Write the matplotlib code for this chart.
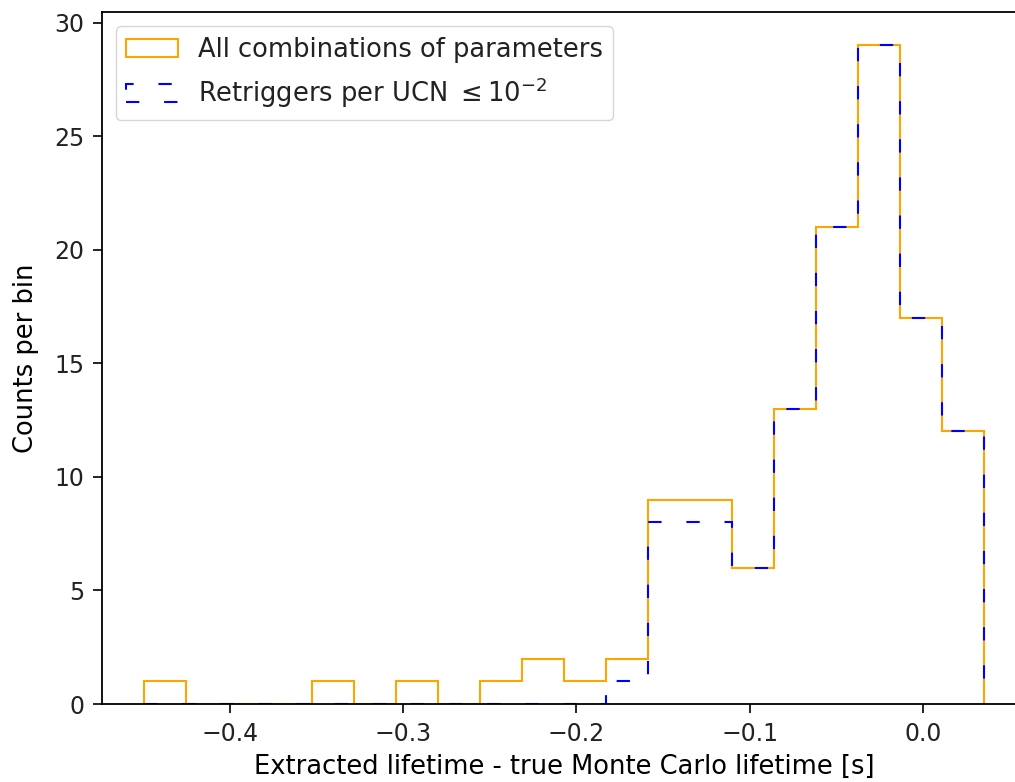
import numpy as np
import matplotlib
matplotlib.use("Agg")
import matplotlib.pyplot as plt

# 20 equal bins of (extracted - true) lifetime
bin_lo, bin_hi, n_bins = -0.450, 0.0356, 20
edges = np.linspace(bin_lo, bin_hi, n_bins + 1)
centers = 0.5 * (edges[:-1] + edges[1:])

counts_all = [1, 0, 0, 0, 1, 0, 1, 0, 1, 2, 1, 2, 9, 9, 6, 13, 21, 29, 17, 12]
counts_cut = [0, 0, 0, 0, 0, 0, 0, 0, 0, 0, 0, 1, 8, 8, 6, 13, 21, 29, 17, 12]

plt.rcParams['font.size'] = 18.5
plt.rcParams['xtick.labelsize'] = 17
plt.rcParams['ytick.labelsize'] = 17
plt.rcParams['axes.linewidth'] = 1.3
plt.rcParams['xtick.major.size'] = 6.5
plt.rcParams['ytick.major.size'] = 6.5
plt.rcParams['xtick.major.width'] = 1.2
plt.rcParams['ytick.major.width'] = 1.2
plt.rcParams['xtick.major.pad'] = 6.5
plt.rcParams['ytick.major.pad'] = 6
plt.rcParams['text.color'] = '#222222'
plt.rcParams['xtick.labelcolor'] = '#222222'
plt.rcParams['ytick.labelcolor'] = '#222222'

fig = plt.figure(figsize=(10.15, 7.82), dpi=100)
ax = fig.add_axes([0.1002, 0.0997, 0.911, 0.8845])

ax.hist(centers, bins=edges, weights=counts_all, histtype="step",
        color="orange", lw=1.5, label="All combinations of parameters")
ax.hist(centers, bins=edges, weights=counts_cut, histtype="step",
        color="blue", lw=1.5, ls=(0, (6.4, 11.9)),
        label=r"Retriggers per UCN $\leq 10^{-2}$")
ax.spines['right'].set_visible(False)

ax.set_xlabel("Extracted lifetime - true Monte Carlo lifetime [s]", labelpad=6)
ax.set_ylabel("Counts per bin", labelpad=11)
ax.legend(loc="upper left", borderaxespad=0.55)

fig.savefig("out.png", dpi=100)
